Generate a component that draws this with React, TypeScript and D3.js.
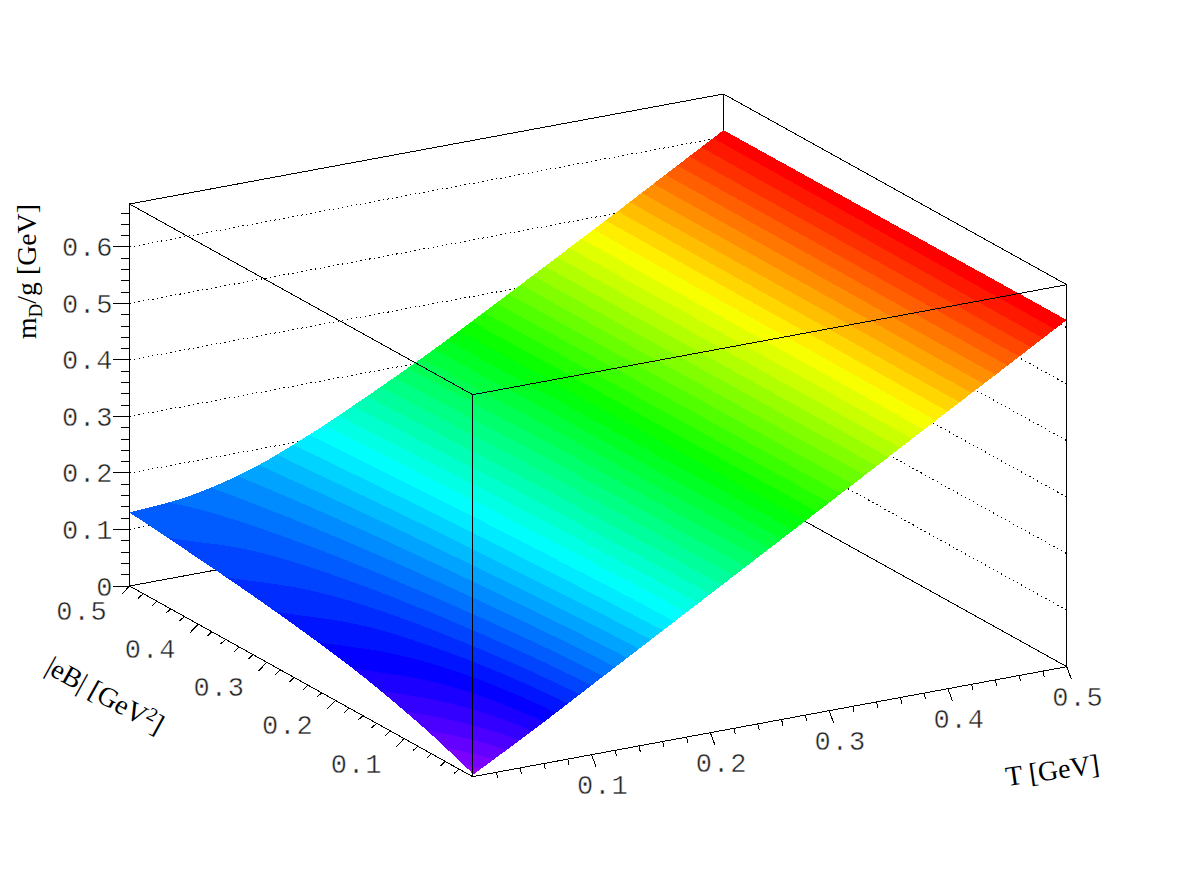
import React, { useMemo } from "react";
import * as d3 from "d3";

// ---- data ----
const tempKnots = [0, 0.05, 0.1, 0.15, 0.2, 0.25, 0.3, 0.35, 0.4, 0.45, 0.5];
// field knots are evenly spaced in s = sqrt(|eB| / 0.5)
const fieldRootKnots = [0, 0.2, 0.4, 0.6, 0.8, 1];
const surfaceAtT000 = [0.003, 0.015, 0.042, 0.075, 0.104, 0.13];
const surfaceAtT005 = [0.0614, 0.0644, 0.0752, 0.0949, 0.1176, 0.1396];
const surfaceAtT010 = [0.1227, 0.1239, 0.1284, 0.1378, 0.1504, 0.1655];
const surfaceAtT015 = [0.184, 0.1846, 0.1867, 0.1915, 0.1982, 0.2075];
const surfaceAtT020 = [0.2454, 0.2456, 0.2466, 0.2488, 0.2519, 0.258];
const surfaceAtT025 = [0.3068, 0.3069, 0.3073, 0.3081, 0.3093, 0.312];
const surfaceAtT030 = [0.368, 0.368, 0.3685, 0.369, 0.3695, 0.37];
const surfaceAtT035 = [0.4295, 0.4295, 0.4295, 0.4295, 0.43, 0.43];
const surfaceAtT040 = [0.491, 0.491, 0.491, 0.4905, 0.4905, 0.49];
const surfaceAtT045 = [0.552, 0.552, 0.552, 0.5515, 0.551, 0.551];
const surfaceAtT050 = [0.6136, 0.6136, 0.6134, 0.613, 0.6125, 0.612];
const surfaceRows = [
  surfaceAtT000, surfaceAtT005, surfaceAtT010, surfaceAtT015, surfaceAtT020, surfaceAtT025,
  surfaceAtT030, surfaceAtT035, surfaceAtT040, surfaceAtT045, surfaceAtT050,
];

const tempMajor = [0.1, 0.2, 0.3, 0.4, 0.5];
const fieldMajor = [0.1, 0.2, 0.3, 0.4, 0.5];
const zMajor = [0, 0.1, 0.2, 0.3, 0.4, 0.5, 0.6];
const minorTicks = [0.02, 0.04, 0.06, 0.08, 0.12, 0.14, 0.16, 0.18, 0.22, 0.24, 0.26, 0.28, 0.32, 0.34, 0.36, 0.38, 0.42, 0.44, 0.46, 0.48];
const zMinorExtra = [0.52, 0.54, 0.56, 0.58, 0.62, 0.64, 0.66];

const AXIS_MAX = 0.5;
const Z_TOP = 0.676;
const Z_MAX = 0.6136;
const BANDS = 50;

// ---- projection (parallel) ----
const tx = d3.scaleLinear().domain([0, AXIS_MAX]).range([472.7, 1066.7]);
const ty = d3.scaleLinear().domain([0, AXIS_MAX]).range([776.7, 666.7]);
const bx = d3.scaleLinear().domain([0, AXIS_MAX]).range([0, -343.2]);
const by = d3.scaleLinear().domain([0, AXIS_MAX]).range([0, -190.7]);
const zy = d3.scaleLinear().domain([0, Z_TOP]).range([0, 382]);
const project = (t: number, b: number, z: number): [number, number] => [tx(t) + bx(b), ty(t) + by(b) - zy(z)];

const hueScale = d3.scaleLinear().domain([0, BANDS]).range([280, 0]);
const bandColor = (i: number) => d3.hsl(hueScale(i + 1), 1, 0.5).formatHex();

// smooth evaluation between the read knots
function cr(p0: number, p1: number, p2: number, p3: number, u: number) {
  return 0.5 * (2 * p1 + (p2 - p0) * u + (2 * p0 - 5 * p1 + 4 * p2 - p3) * u * u + (3 * p1 - p0 - 3 * p2 + p3) * u * u * u);
}
function sampleLine(arr: number[], pos: number) {
  const n = arr.length;
  const i = Math.min(n - 2, Math.max(0, Math.floor(pos)));
  const u = pos - i;
  const at = (k: number) => (k < 0 ? 2 * arr[0] - arr[1] : k >= n ? 2 * arr[n - 1] - arr[n - 2] : arr[k]);
  return cr(at(i - 1), at(i), at(i + 1), at(i + 2), u);
}
const tempIndex = d3.scaleLinear().domain([0, AXIS_MAX]).range([0, tempKnots.length - 1]);
const rootIndex = d3.scaleLinear().domain([0, 1]).range([0, fieldRootKnots.length - 1]);
function surface(t: number, s: number) {
  const col = surfaceRows.map((r) => sampleLine(r, rootIndex(s)));
  return sampleLine(col, tempIndex(t));
}

function buildBands() {
  const nx = 360;
  const ny = 260;
  const values = new Float64Array(nx * ny);
  for (let j = 0; j < ny; j++) {
    const s = j / (ny - 1);
    const col = surfaceRows.map((r) => sampleLine(r, rootIndex(s)));
    for (let i = 0; i < nx; i++) {
      values[j * nx + i] = sampleLine(col, tempIndex((i / (nx - 1)) * AXIS_MAX));
    }
  }
  const levels = d3.range(BANDS).map((i) => (i === 0 ? -1 : (i * Z_MAX) / BANDS));
  const gen = d3.contours().size([nx, ny]).thresholds(levels).smooth(true);
  const polys = gen(values as unknown as number[]);
  return polys.map((poly, i) => {
    const d = poly.coordinates
      .map((rings) =>
        rings
          .map((ring) => {
            const pts = ring.map(([cx, cy]) => {
              const t = (Math.min(nx - 1, Math.max(0, cx - 0.5)) / (nx - 1)) * AXIS_MAX;
              const s = Math.min(ny - 1, Math.max(0, cy - 0.5)) / (ny - 1);
              const b = AXIS_MAX * s * s;
              return project(t, b, surface(t, s));
            });
            return d3.line()(pts) + "Z";
          })
          .join("")
      )
      .join("");
    return { d, fill: bandColor(i) };
  });
}

const Seg = ({ a, b, w = 1, dash }: { a: [number, number]; b: [number, number]; w?: number; dash?: string }) => (
  <line x1={a[0]} y1={a[1]} x2={b[0]} y2={b[1]} stroke="#000" strokeWidth={w} strokeDasharray={dash} shapeRendering="crispEdges" />
);

const tickFont: React.CSSProperties = {
  fontFamily: "'Liberation Mono', monospace",
  fontSize: 27,
  letterSpacing: 1,
  fill: "#222",
  stroke: "#fff",
  strokeWidth: 0.45,
};
const titleFont: React.CSSProperties = { fontFamily: "'Liberation Serif', serif", fontSize: 27.8, fill: "#000" };

export default function App() {
  const bands = useMemo(buildBands, []);
  const zTicks = [...zMajor];
  const zMinor = [...minorTicks, ...zMinorExtra].concat([]);
  const A = AXIS_MAX;
  return (
    <svg width={1196} height={872} style={{ position: "absolute", left: 0, top: 0, background: "#fff" }}>
      {/* back walls: dotted z grid */}
      {zTicks.filter((z) => z > 0).map((z) => (
        <g key={z}>
          <Seg a={project(0, A, z)} b={project(A, A, z)} dash="1.4 3.2" />
          <Seg a={project(A, A, z)} b={project(A, 0, z)} dash="1.4 3.2" />
        </g>
      ))}
      {/* back box edges */}
      <Seg a={project(0, A, 0)} b={project(A, A, 0)} />
      <Seg a={project(A, A, 0)} b={project(A, 0, 0)} />
      <Seg a={project(A, A, 0)} b={project(A, A, Z_TOP)} />
      <Seg a={project(0, A, Z_TOP)} b={project(A, A, Z_TOP)} />
      <Seg a={project(A, A, Z_TOP)} b={project(A, 0, Z_TOP)} />
      <Seg a={project(0, A, 0)} b={project(0, A, Z_TOP)} />
      <Seg a={project(A, 0, 0)} b={project(A, 0, Z_TOP)} />

      {/* surface */}
      <g shapeRendering="crispEdges">
        {bands.map((b, i) => (
          <path key={i} d={b.d} fill={b.fill} />
        ))}
      </g>

      {/* front box edges */}
      <Seg a={project(0, 0, Z_TOP)} b={project(0, A, Z_TOP)} />
      <Seg a={project(0, 0, Z_TOP)} b={project(A, 0, Z_TOP)} />
      <Seg a={project(0, 0, 0)} b={project(0, 0, Z_TOP)} />
      <Seg a={project(0, 0, 0)} b={project(A, 0, 0)} />
      <Seg a={project(0, 0, 0)} b={project(0, A, 0)} />

      {/* z ticks */}
      {zTicks.map((z) => {
        const [x, y] = project(0, A, z);
        return (
          <g key={z}>
            <Seg a={[x - 16.5, y]} b={[x, y]} />
            <text x={x - 16} y={y + 9.5} textAnchor="end" style={tickFont}>{z === 0 ? "0" : z.toFixed(1)}</text>
          </g>
        );
      })}
      {zMinor.map((z) => {
        const [x, y] = project(0, A, z);
        return <Seg key={z} a={[x - 8.5, y]} b={[x, y]} />;
      })}

      {/* T ticks */}
      {tempMajor.map((t) => {
        const [x, y] = project(t, 0, 0);
        return (
          <g key={t}>
            <Seg a={[x, y]} b={[x + 4.7, y + 12.5]} />
            <text x={x + 11.3} y={y + 39} textAnchor="middle" style={tickFont}>{t.toFixed(1)}</text>
          </g>
        );
      })}
      {minorTicks.map((t) => {
        const [x, y] = project(t, 0, 0);
        return <Seg key={t} a={[x, y]} b={[x + 1.3, y + 6]} />;
      })}

      {/* |eB| ticks */}
      {fieldMajor.map((b) => {
        const [x, y] = project(0, b, 0);
        return (
          <g key={b}>
            <Seg a={[x, y]} b={[x - 8, y + 8.5]} />
            <text x={x - 47.5} y={y + 34} textAnchor="middle" style={tickFont}>{b.toFixed(1)}</text>
          </g>
        );
      })}
      {minorTicks.map((b) => {
        const [x, y] = project(0, b, 0);
        return <Seg key={b} a={[x, y]} b={[x - 5, y + 4.6]} />;
      })}

      {/* titles */}
      <text transform="translate(36,339) rotate(-90)" style={titleFont}>
        m<tspan dy={6} fontSize={19}>D</tspan><tspan dy={-6}>/g [GeV]</tspan>
      </text>
      <text transform="translate(44,672) rotate(29)" style={titleFont}>
        |eB| [GeV<tspan dy={-9} fontSize={19}>2</tspan><tspan dy={9}>]</tspan>
      </text>
      <text transform="translate(1007,786) rotate(-8)" style={titleFont}>T [GeV]</text>
    </svg>
  );
}
